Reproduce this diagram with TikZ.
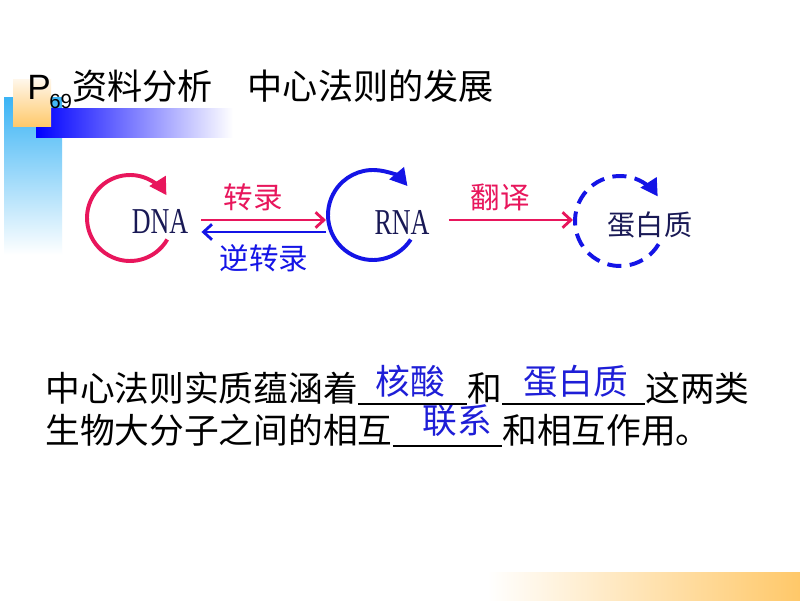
\documentclass[tikz,border=0pt]{standalone}
\usepackage{graphicx}
\usepackage{fontspec}
\setmainfont{Liberation Sans}
\newfontfamily\cjk{Noto Sans CJK SC}
\newfontfamily\dnafont{Liberation Serif}
\usetikzlibrary{arrows.meta}
\definecolor{rosered}{RGB}{232,22,92}
\definecolor{deepblue}{RGB}{20,20,230}
\definecolor{inkblue}{RGB}{30,30,215}
\definecolor{darknavy}{RGB}{25,25,85}
\definecolor{skyblue}{RGB}{60,180,245}
\definecolor{sandy}{RGB}{255,200,105}
\begin{document}
\begin{tikzpicture}[x=0.025cm,y=0.025cm,
    ring/.style={line width=2.8pt,-{Triangle[length=12pt,width=13pt]}},
    arr/.style={line width=2pt,-{Straight Barb[length=6pt,width=11pt]}},
    lbl/.style={font=\cjk\fontsize{21}{24}\selectfont,inner sep=0},
    mol/.style={font=\dnafont\fontsize{18.5}{20}\selectfont,text=darknavy,inner sep=0},
    body/.style={font=\cjk\fontsize{24.7}{30}\selectfont,inner sep=0,anchor=base west},
    ans/.style={body,text=inkblue,anchor=base},
    blank/.style={line width=1.4pt}]
    \useasboundingbox[fill=white] (0,0) rectangle (800,600);
    % corner bars
    \shade[top color=skyblue,bottom color=white] (4,502) rectangle (62,345);
    \shade[left color=blue,right color=white] (36,491) rectangle (233,462);
    \shade[top color={rgb,255:red,255;green,246;blue,232},bottom color=sandy] (13,520) rectangle (51,473);
    \shade[left color=white,right color=sandy] (487,0) rectangle (800,28);
    \node[anchor=base west,inner sep=0,font=\fontsize{25}{28}\selectfont] (title) at (27,500)
        {P\hspace{-1pt}\raisebox{-6pt}{\fontsize{14.5}{16}\selectfont 69}{\cjk 资料分析\hspace{1em}中心法则的发展}};
    % rings
    \coordinate (Dc) at (130,382);
    \coordinate (Rc) at (373,385);
    \coordinate (Pc) at (620,379);
    \draw[ring,rosered] ([shift={(-30:43)}]Dc) arc[start angle=-30,end angle=-328,radius=43];
    \draw[ring,deepblue] ([shift={(-33:45)}]Rc) arc[start angle=-33,end angle=-320,radius=45];
    \draw[ring,deepblue,dash pattern=on 10pt off 6pt] ([shift={(-31:45)}]Pc) arc[start angle=-31,end angle=-327,radius=45];
    \node[mol] (DNA) at (160,378) {\scalebox{1}[1.4]{DNA}};
    \node[mol] (RNA) at (402,378) {\scalebox{1}[1.4]{RNA}};
    \node[lbl,font=\cjk\fontsize{20}{24}\selectfont,text=darknavy] (P) at (650,375) {蛋白质};
    % arrows
    \draw[arr,rosered] ([shift={(13,2)}]DNA.east) -- ([shift={(-47,-5)}]Rc);
    \draw[arr,deepblue] ([shift={(-47,-17)}]Rc) -- ([shift={(13,-10)}]DNA.east);
    \draw[arr,rosered] ([shift={(19,2)}]RNA.east) -- ([shift={(-47,1)}]Pc);
    \node[lbl,text=rosered] (T1) at (253,403) {转录};
    \node[lbl,text=deepblue] (T2) at (264,342) {逆转录};
    \node[lbl,text=rosered] (T3) at (500,403) {翻译};
    % sentence
    \node[body] (L1a) at (45,199) {中心法则实质蕴涵着};
    \node[body] (L1b) at (467,199) {和};
    \node[body] (L1c) at (645,199) {这两类};
    \node[body] (L2a) at (45,157) {生物大分子之间的相互};
    \node[body] (L2b) at (502,157) {和相互作用。};
    \node[ans] (A1) at (410,206) {核酸};
    \node[ans] (A2) at (576,206) {蛋白质};
    \node[ans] (A3) at (457,167) {联系};
    \draw[blank] ([yshift=-2pt]L1a.base east) -- ([yshift=-2pt]L1b.base west);
    \draw[blank] ([yshift=-2pt]L1b.base east) -- ([yshift=-2pt]L1c.base west);
    \draw[blank] ([yshift=-2pt]L2a.base east) -- ([yshift=-2pt]L2b.base west);
\end{tikzpicture}
\end{document}
